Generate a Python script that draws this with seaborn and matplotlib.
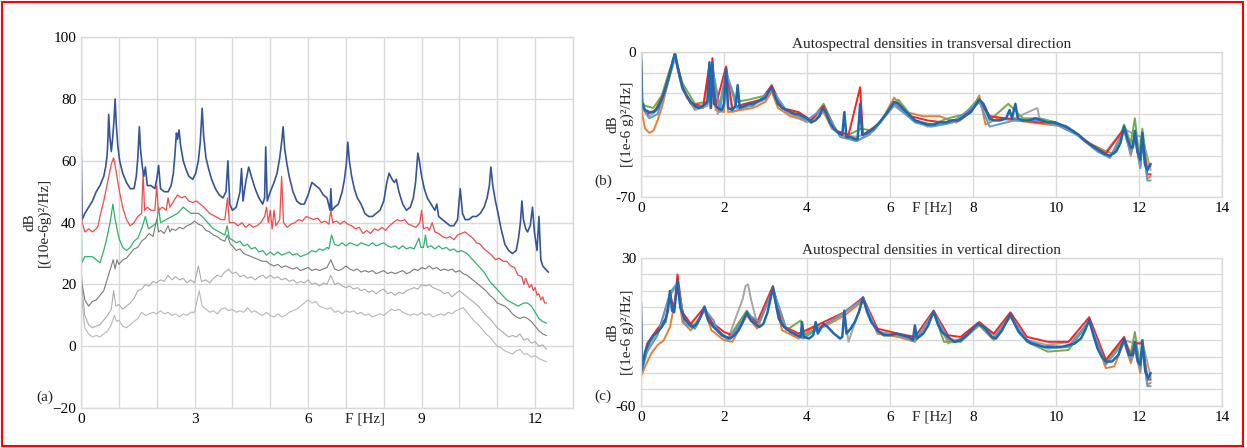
import numpy as np
import seaborn as sns
import matplotlib
matplotlib.use("Agg")
import matplotlib.pyplot as plt
from matplotlib.patches import Rectangle

# ---- panel (a): autospectra, dB [(10e-6g)^2/Hz], (freq Hz, dB) pairs
a_blue = [(0.00, 68), (0.03, 41), (0.10, 43), (0.20, 45), (0.30, 47), (0.40, 50), (0.50, 52), (0.60, 55),
          (0.65, 58), (0.69, 62), (0.71, 67), (0.73, 75), (0.76, 68), (0.80, 63), (0.84, 68), (0.87, 73),
          (0.90, 80), (0.93, 72), (0.97, 65), (1.02, 60), (1.10, 56), (1.20, 53), (1.30, 51), (1.40, 51),
          (1.46, 55), (1.50, 61), (1.54, 71), (1.57, 64), (1.62, 58), (1.66, 55), (1.70, 58), (1.75, 52),
          (1.85, 52), (1.95, 51), (2.00, 54), (2.05, 58.5), (2.10, 51), (2.20, 50), (2.30, 50), (2.38, 52),
          (2.44, 56), (2.48, 62), (2.52, 69), (2.55, 67), (2.59, 70), (2.63, 65), (2.70, 60), (2.78, 57),
          (2.85, 55), (2.95, 54), (3.03, 56), (3.10, 60), (3.15, 66), (3.20, 77), (3.24, 68), (3.30, 61),
          (3.38, 57), (3.45, 54), (3.55, 51), (3.65, 49), (3.75, 48), (3.83, 50), (3.88, 60), (3.93, 46),
          (4.00, 44), (4.10, 45), (4.20, 50), (4.24, 57.5), (4.28, 47), (4.35, 53), (4.43, 58), (4.50, 55),
          (4.60, 51), (4.70, 48), (4.80, 46), (4.85, 48), (4.88, 64.5), (4.92, 47), (5.00, 50), (5.10, 53),
          (5.18, 56), (5.25, 61), (5.30, 66), (5.34, 71), (5.38, 64), (5.44, 59), (5.50, 55), (5.60, 50),
          (5.70, 47), (5.80, 46), (5.90, 46), (6.00, 49), (6.10, 53), (6.20, 52), (6.30, 51), (6.40, 49),
          (6.50, 48), (6.58, 44), (6.60, 51), (6.63, 44), (6.70, 45), (6.80, 46), (6.90, 50), (6.96, 54),
          (7.01, 59), (7.05, 66), (7.09, 60), (7.15, 55), (7.22, 51), (7.30, 48), (7.40, 46), (7.50, 43),
          (7.60, 42), (7.70, 42), (7.80, 43), (7.90, 44), (8.00, 47), (8.08, 53), (8.14, 56), (8.22, 54),
          (8.28, 53), (8.33, 54), (8.40, 50), (8.50, 46), (8.60, 44), (8.70, 45), (8.78, 48), (8.84, 53),
          (8.90, 62.5), (8.94, 60), (9.00, 55), (9.07, 51), (9.15, 48), (9.25, 46), (9.35, 44), (9.40, 46),
          (9.45, 42), (9.55, 41), (9.65, 40), (9.75, 39), (9.85, 39), (9.95, 41), (10.02, 51), (10.08, 43),
          (10.15, 41), (10.25, 41), (10.35, 42), (10.45, 42), (10.55, 43), (10.65, 45), (10.73, 48),
          (10.79, 52), (10.83, 58), (10.88, 52), (10.95, 47), (11.02, 43), (11.10, 38), (11.20, 33),
          (11.30, 31), (11.40, 30), (11.50, 31), (11.56, 35), (11.61, 40), (11.65, 47), (11.69, 41),
          (11.75, 38), (11.80, 37), (11.87, 39), (11.93, 45), (11.98, 37), (12.05, 31), (12.10, 42),
          (12.15, 28), (12.20, 26), (12.27, 25), (12.35, 24)]

a_red = [(0.00, 58), (0.03, 40), (0.10, 37), (0.20, 38), (0.30, 37), (0.40, 38), (0.45, 39), (0.50, 42),
         (0.60, 47), (0.70, 53), (0.80, 59), (0.86, 61), (0.92, 57), (1.00, 51), (1.10, 45), (1.20, 41),
         (1.30, 39), (1.40, 40), (1.50, 42), (1.60, 43), (1.64, 56), (1.68, 44), (1.75, 45), (1.85, 44),
         (1.95, 44), (2.00, 52), (2.04, 44), (2.15, 45), (2.25, 44), (2.30, 48), (2.35, 45), (2.45, 47),
         (2.55, 49), (2.65, 48), (2.75, 48.5), (2.85, 47), (2.95, 46.5), (3.05, 47), (3.15, 46), (3.25, 45),
         (3.40, 43), (3.55, 42), (3.70, 41), (3.80, 41), (3.87, 48), (3.92, 40), (4.05, 40), (4.15, 39),
         (4.25, 40), (4.35, 38.5), (4.45, 39.5), (4.55, 38.5), (4.65, 39), (4.75, 40), (4.85, 42), (4.90, 45),
         (4.95, 40), (5.00, 44), (5.05, 38), (5.10, 44), (5.15, 39), (5.25, 41), (5.30, 55), (5.35, 40),
         (5.45, 38.5), (5.55, 39.5), (5.65, 40), (5.75, 41), (5.85, 40.5), (5.95, 42), (6.05, 41.5),
         (6.15, 41), (6.25, 41.5), (6.35, 40), (6.45, 40.5), (6.55, 39.5), (6.60, 44), (6.65, 40), (6.75, 40.5),
         (6.85, 39.5), (6.95, 40.5), (7.05, 39.5), (7.15, 39), (7.25, 38), (7.35, 38.5), (7.45, 36.5),
         (7.55, 37.5), (7.65, 36.5), (7.75, 38), (7.85, 37.5), (7.95, 38.5), (8.05, 37.5), (8.15, 39),
         (8.25, 40), (8.35, 41), (8.45, 40.5), (8.55, 41), (8.65, 39.5), (8.75, 39), (8.85, 38.5), (8.95, 40),
         (9.00, 44), (9.05, 38), (9.15, 38.5), (9.20, 37.5), (9.28, 40), (9.35, 37), (9.45, 36.5), (9.55, 35.5),
         (9.65, 35), (9.75, 35.5), (9.85, 34.5), (9.95, 36), (10.05, 36.5), (10.15, 37), (10.25, 36),
         (10.35, 35), (10.45, 33.5), (10.55, 33), (10.65, 31.5), (10.75, 30.5), (10.85, 29.5), (10.95, 28),
         (11.05, 28.5), (11.15, 27.5), (11.25, 27.5), (11.35, 26), (11.45, 25.5), (11.55, 23), (11.65, 22.5),
         (11.70, 20), (11.75, 22), (11.80, 20.5), (11.85, 19), (11.90, 20), (11.95, 18), (12.00, 19),
         (12.05, 16.5), (12.10, 17), (12.15, 15), (12.20, 16), (12.25, 14), (12.30, 14)]

a_green = [(0.00, 50), (0.02, 27), (0.10, 29), (0.20, 29), (0.30, 29), (0.40, 28), (0.50, 27), (0.60, 31),
           (0.70, 36), (0.78, 41), (0.84, 46), (0.90, 41), (1.00, 35), (1.10, 32), (1.20, 31), (1.30, 32),
           (1.40, 34), (1.50, 35), (1.60, 38), (1.70, 42), (1.78, 38), (1.90, 39), (2.00, 40), (2.05, 45),
           (2.10, 40), (2.25, 41), (2.40, 42), (2.55, 43), (2.70, 45), (2.80, 44), (2.90, 43), (3.00, 43),
           (3.10, 43), (3.20, 42), (3.35, 40), (3.50, 38), (3.65, 37), (3.80, 36), (3.86, 39), (3.92, 35),
           (4.05, 34), (4.10, 33.5), (4.20, 34), (4.30, 32.5), (4.40, 33), (4.50, 31.5), (4.60, 32), (4.70, 30.5),
           (4.80, 31), (4.90, 29.5), (5.00, 30.5), (5.10, 29.5), (5.20, 30.5), (5.30, 29.5), (5.40, 30),
           (5.50, 30.5), (5.60, 29.5), (5.70, 30), (5.80, 29), (5.90, 29.5), (6.00, 30), (6.10, 31), (6.20, 30.5),
           (6.30, 31.5), (6.40, 31), (6.50, 32), (6.55, 31.5), (6.62, 36), (6.70, 33), (6.80, 32.5), (6.90, 33.5),
           (7.00, 32.5), (7.10, 33.5), (7.20, 33), (7.30, 32.5), (7.40, 33.5), (7.50, 33), (7.60, 32.5),
           (7.70, 33.5), (7.80, 32.5), (7.90, 33), (8.00, 33.5), (8.10, 32.5), (8.20, 32), (8.30, 32.5),
           (8.40, 31.5), (8.50, 32.5), (8.60, 31.5), (8.70, 32), (8.80, 31.5), (8.93, 35), (8.98, 32),
           (9.05, 32), (9.10, 36), (9.15, 32), (9.25, 32.5), (9.35, 31.5), (9.45, 32.5), (9.55, 31.5),
           (9.65, 32), (9.75, 31), (9.85, 31.5), (9.95, 30.5), (10.05, 31), (10.20, 30), (10.35, 28),
           (10.50, 26), (10.65, 24), (10.80, 21), (10.95, 19), (11.10, 17), (11.25, 15), (11.40, 14),
           (11.55, 13), (11.70, 14), (11.80, 14), (11.90, 13), (12.00, 11), (12.10, 9), (12.20, 8),
           (12.30, 7.5)]

a_gray = [(0.00, 25), (0.03, 20), (0.10, 15), (0.20, 13), (0.30, 14.5), (0.40, 15), (0.50, 16.5), (0.60, 18),
          (0.70, 22), (0.80, 26), (0.85, 28), (0.90, 25), (0.95, 28), (1.00, 26.5), (1.10, 28), (1.20, 28.5),
          (1.30, 30), (1.40, 31.5), (1.50, 32), (1.60, 34), (1.70, 35), (1.80, 36.5), (1.90, 35.5), (2.00, 41),
          (2.05, 37), (2.10, 37.5), (2.20, 36.5), (2.30, 39), (2.35, 37), (2.40, 38), (2.50, 37.5), (2.60, 38.5),
          (2.70, 38), (2.80, 39), (2.90, 39.5), (3.00, 40.5), (3.10, 39.5), (3.20, 39), (3.30, 37.5), (3.40, 37),
          (3.50, 36), (3.60, 35.5), (3.70, 34.5), (3.80, 34), (3.86, 36), (3.95, 33), (4.00, 32.5), (4.10, 31),
          (4.20, 31.5), (4.30, 30), (4.40, 29.5), (4.50, 29), (4.60, 28.5), (4.70, 28), (4.80, 27.5),
          (4.90, 27.5), (5.00, 26.5), (5.10, 26), (5.20, 26.5), (5.30, 25.5), (5.40, 26), (5.50, 25.5),
          (5.60, 25), (5.70, 25.5), (5.80, 24.5), (5.90, 25), (6.00, 25.5), (6.10, 24.5), (6.20, 25),
          (6.30, 24.5), (6.40, 25), (6.50, 25.5), (6.60, 28), (6.70, 25), (6.80, 24.5), (6.90, 25), (7.00, 26),
          (7.10, 25), (7.20, 24.5), (7.30, 25), (7.40, 24), (7.50, 24.5), (7.60, 24), (7.70, 24.5), (7.80, 23.5),
          (7.90, 24), (8.00, 24.5), (8.10, 23.5), (8.20, 24), (8.30, 23.5), (8.40, 24), (8.50, 24.5),
          (8.60, 23.5), (8.70, 24), (8.80, 25), (8.90, 24.5), (9.00, 25.5), (9.10, 25), (9.20, 26), (9.30, 25),
          (9.40, 25.5), (9.50, 24.5), (9.60, 25), (9.70, 24.5), (9.80, 25), (9.90, 24), (10.00, 24.5),
          (10.10, 23.5), (10.20, 23), (10.30, 22), (10.40, 21), (10.50, 20), (10.60, 19), (10.70, 18),
          (10.80, 16.5), (10.90, 15.5), (11.00, 14), (11.10, 13.5), (11.20, 13), (11.30, 12), (11.40, 10.5),
          (11.50, 9.5), (11.60, 9), (11.70, 9.5), (11.80, 9), (11.90, 8), (12.00, 6.5), (12.10, 5), (12.20, 4),
          (12.30, 3.5)]

a_lgray1 = [(0.00, 22), (0.03, 18), (0.10, 10), (0.20, 7), (0.30, 6), (0.40, 6.5), (0.50, 7), (0.60, 8.5),
            (0.70, 10), (0.80, 12), (0.86, 18), (0.92, 13), (1.00, 13.5), (1.10, 12), (1.20, 13), (1.30, 14),
            (1.40, 15.5), (1.50, 18), (1.60, 18.5), (1.70, 20), (1.80, 19.5), (1.90, 21), (2.00, 20.5),
            (2.10, 21.5), (2.20, 21), (2.30, 23), (2.40, 21.5), (2.50, 22.5), (2.60, 21.5), (2.70, 22),
            (2.80, 20.5), (2.90, 21.5), (3.00, 20.5), (3.10, 26), (3.18, 21), (3.30, 21.5), (3.40, 20.5),
            (3.50, 22), (3.60, 23), (3.70, 22.5), (3.80, 24), (3.90, 25), (4.00, 23.5), (4.10, 24), (4.20, 22.5),
            (4.30, 23), (4.40, 22), (4.50, 22.5), (4.60, 21.5), (4.70, 22.5), (4.80, 23), (4.90, 22), (5.00, 23),
            (5.10, 22), (5.20, 22.5), (5.30, 21.5), (5.40, 22), (5.50, 21), (5.60, 21.5), (5.70, 20.5),
            (5.80, 21), (5.90, 20.5), (6.00, 21.5), (6.10, 20), (6.20, 20.5), (6.30, 19.5), (6.40, 20.5),
            (6.50, 20), (6.60, 23), (6.70, 20), (6.80, 20.5), (6.90, 19.5), (7.00, 19), (7.10, 19.5), (7.20, 18.5),
            (7.30, 19), (7.40, 18), (7.50, 18.5), (7.60, 17.5), (7.70, 18), (7.80, 17), (7.90, 18), (8.00, 18.5),
            (8.10, 17), (8.20, 17.5), (8.30, 16.5), (8.40, 17.5), (8.50, 17), (8.60, 18), (8.70, 18.5),
            (8.80, 19), (8.90, 18.5), (9.00, 20), (9.10, 19.5), (9.20, 20), (9.30, 19), (9.40, 18.5), (9.50, 18),
            (9.60, 17), (9.70, 17.5), (9.80, 16), (9.90, 17), (10.00, 18), (10.10, 17), (10.20, 16), (10.30, 15),
            (10.40, 14), (10.50, 13), (10.60, 11.5), (10.70, 10), (10.80, 9), (10.90, 7.5), (11.00, 6),
            (11.10, 5), (11.20, 4), (11.30, 3), (11.40, 3.5), (11.50, 3), (11.60, 4), (11.70, 2), (11.80, 2.5),
            (11.90, 1), (12.00, 1.5), (12.10, 0), (12.20, 0.5), (12.30, -1)]

a_lgray2 = [(0.00, 18), (0.03, 14), (0.10, 6), (0.20, 4), (0.30, 3), (0.40, 3.5), (0.50, 3), (0.60, 4),
            (0.70, 5), (0.80, 7), (0.88, 10), (0.94, 8), (1.00, 8.5), (1.10, 6.5), (1.20, 6), (1.30, 7),
            (1.40, 8), (1.50, 9), (1.60, 11), (1.70, 10), (1.80, 10.5), (1.90, 11), (2.00, 10.5), (2.10, 11.5),
            (2.20, 10.5), (2.30, 11), (2.40, 10), (2.50, 10.5), (2.60, 9.5), (2.70, 10.5), (2.80, 10), (2.90, 11),
            (3.00, 11), (3.12, 18), (3.20, 13), (3.30, 12), (3.40, 11), (3.50, 11.5), (3.60, 10.5), (3.70, 12),
            (3.80, 12.5), (3.90, 11.5), (4.00, 12), (4.10, 11), (4.20, 11.5), (4.30, 11), (4.40, 12.5),
            (4.50, 11), (4.60, 11.5), (4.70, 10.5), (4.80, 10), (4.90, 11), (5.00, 10), (5.10, 9.5), (5.20, 10.5),
            (5.30, 9.5), (5.40, 10), (5.50, 11), (5.60, 11.5), (5.70, 12), (5.80, 13), (5.90, 14), (6.00, 15),
            (6.10, 14), (6.20, 14.5), (6.30, 13), (6.40, 12.5), (6.50, 12), (6.60, 12.5), (6.70, 11), (6.80, 11.5),
            (6.90, 10.5), (7.00, 11.5), (7.10, 11), (7.20, 11.5), (7.30, 10.5), (7.40, 11), (7.50, 10),
            (7.60, 10.5), (7.70, 9.5), (7.80, 10), (7.90, 10.5), (8.00, 10), (8.10, 11), (8.20, 12), (8.30, 11.5),
            (8.40, 12), (8.50, 11), (8.60, 10.5), (8.70, 10), (8.80, 10.5), (8.90, 10), (9.00, 11), (9.10, 10),
            (9.20, 10.5), (9.30, 9.5), (9.40, 10), (9.50, 10.5), (9.60, 10), (9.70, 11), (9.80, 10.5),
            (9.90, 11.5), (10.00, 12), (10.10, 12.5), (10.20, 11), (10.30, 9.5), (10.40, 8), (10.50, 7),
            (10.60, 5.5), (10.70, 4), (10.80, 3), (10.90, 1.5), (11.00, 0), (11.10, -0.5), (11.20, -1.5),
            (11.30, -2), (11.40, -2.5), (11.50, -1.5), (11.60, -1), (11.70, -2.5), (11.80, -2.5), (11.90, -3.5),
            (12.00, -3), (12.10, -4), (12.20, -4.5), (12.30, -5)]

# ---- panel (b): transversal direction, dB [(1e-6 g)^2/Hz]
b_blue = [(0.00, 0), (0.03, -25), (0.10, -28), (0.20, -29), (0.30, -29), (0.40, -27), (0.50, -23), (0.60, -17),
          (0.70, -10), (0.77, -4), (0.82, -0.5), (0.88, -7), (0.95, -13), (1.00, -17), (1.10, -21), (1.20, -24),
          (1.30, -26), (1.40, -27), (1.50, -26), (1.60, -24), (1.65, -5), (1.68, -27), (1.72, -5), (1.76, -25),
          (1.85, -27), (1.95, -28), (2.00, -25), (2.05, -8), (2.10, -27), (2.20, -28), (2.28, -26), (2.33, -16),
          (2.38, -27), (2.50, -26), (2.60, -25), (2.70, -25), (2.80, -24), (2.90, -23), (3.00, -22), (3.08, -19),
          (3.15, -17), (3.22, -21), (3.30, -25), (3.40, -27), (3.50, -28), (3.60, -29), (3.70, -30), (3.80, -30),
          (3.90, -31), (4.00, -32), (4.10, -34), (4.20, -33), (4.30, -31), (4.38, -27), (4.45, -29), (4.55, -34),
          (4.65, -37), (4.75, -39), (4.85, -40), (4.90, -29), (4.95, -41), (5.05, -41), (5.15, -42), (5.22, -42),
          (5.28, -25), (5.33, -40), (5.45, -39), (5.60, -37), (5.75, -34), (5.90, -30), (6.00, -27), (6.10, -24),
          (6.20, -25), (6.30, -27), (6.45, -30), (6.60, -33), (6.75, -34), (6.90, -35), (7.05, -35), (7.20, -34),
          (7.35, -34), (7.50, -33), (7.65, -33), (7.80, -31), (7.95, -29), (8.05, -26), (8.15, -23), (8.25, -25),
          (8.32, -28), (8.40, -32), (8.50, -33), (8.65, -33), (8.80, -32), (8.88, -28), (8.94, -32), (9.02, -25),
          (9.08, -32), (9.20, -33), (9.35, -33), (9.50, -32), (9.65, -33), (9.80, -34), (9.95, -34), (10.10, -35),
          (10.25, -36), (10.40, -38), (10.55, -40), (10.70, -43), (10.85, -45), (11.00, -47), (11.15, -49),
          (11.30, -50), (11.45, -48), (11.55, -44), (11.64, -36), (11.72, -42), (11.80, -46), (11.85, -46),
          (11.90, -38), (11.96, -48), (12.03, -52), (12.08, -39), (12.14, -54), (12.20, -57), (12.25, -55),
          (12.28, -54)]

b_orange = [(0.00, -5), (0.03, -30), (0.10, -37), (0.20, -39), (0.30, -38), (0.40, -33), (0.50, -27), (0.60, -19),
            (0.70, -11), (0.82, -2), (0.95, -14), (1.10, -22), (1.30, -27), (1.50, -27), (1.65, -8), (1.70, -27),
            (1.72, -7), (1.80, -28), (2.00, -29), (2.05, -10), (2.10, -29), (2.40, -28), (2.70, -27), (3.00, -24),
            (3.15, -19), (3.30, -27), (3.60, -31), (4.00, -33), (4.38, -28), (4.60, -37), (4.90, -41), (5.20, -43),
            (5.50, -40), (5.80, -33), (6.10, -22), (6.40, -29), (6.80, -31), (7.20, -31), (7.60, -34), (8.00, -27),
            (8.15, -21), (8.30, -35), (8.60, -32), (9.00, -33), (9.40, -34), (9.80, -35), (10.20, -36),
            (10.60, -41), (11.00, -48), (11.30, -51), (11.64, -37), (11.80, -50), (11.90, -42), (12.03, -56),
            (12.08, -43), (12.20, -61), (12.28, -60)]

b_green = [(0.00, -2), (0.03, -24), (0.10, -26), (0.30, -27), (0.50, -21), (0.70, -8), (0.82, -2), (1.00, -15),
           (1.30, -25), (1.60, -24), (1.72, -8), (1.90, -26), (2.05, -10), (2.30, -24), (2.60, -23), (3.00, -21),
           (3.15, -18), (3.40, -27), (3.80, -30), (4.10, -33), (4.40, -25), (4.70, -38), (5.00, -40), (5.30, -37),
           (5.60, -38), (6.00, -28), (6.20, -23), (6.60, -33), (7.00, -35), (7.40, -32), (7.80, -30), (8.15, -22),
           (8.40, -33), (8.85, -25), (9.20, -32), (9.60, -32), (10.00, -34), (10.40, -38), (10.80, -44),
           (11.20, -48), (11.40, -49), (11.64, -35), (11.80, -44), (11.90, -32), (12.00, -50), (12.08, -37),
           (12.20, -56), (12.28, -55)]

b_red = [(0.00, -1), (0.03, -26), (0.15, -30), (0.35, -28), (0.55, -20), (0.75, -6), (0.82, -1), (1.00, -17),
         (1.20, -25), (1.50, -26), (1.65, -6), (1.68, -26), (1.72, -3), (1.80, -26), (2.05, -7), (2.20, -27),
         (2.50, -25), (2.90, -23), (3.15, -16), (3.40, -27), (3.80, -29), (4.10, -33), (4.40, -26), (4.70, -38),
         (5.00, -40), (5.28, -17), (5.35, -40), (5.70, -35), (6.10, -25), (6.50, -31), (6.90, -33), (7.30, -34),
         (7.70, -32), (8.00, -27), (8.15, -24), (8.40, -31), (8.80, -32), (9.20, -33), (9.60, -34), (10.00, -34),
         (10.40, -38), (10.80, -44), (11.20, -49), (11.64, -37), (11.80, -48), (11.90, -40), (12.03, -54),
         (12.08, -42), (12.20, -59), (12.28, -59)]

b_gray = [(0.00, -3), (0.03, -27), (0.20, -31), (0.40, -28), (0.60, -18), (0.82, -3), (1.00, -18), (1.30, -28),
          (1.60, -26), (1.72, -9), (1.85, -30), (2.05, -10), (2.20, -29), (2.60, -26), (3.00, -23), (3.15, -19),
          (3.50, -29), (4.00, -34), (4.40, -29), (4.80, -40), (5.20, -41), (5.60, -38), (6.10, -26), (6.50, -32),
          (6.90, -36), (7.30, -35), (7.70, -33), (8.15, -24), (8.50, -33), (9.00, -32), (9.55, -27), (9.60, -32),
          (10.00, -34), (10.40, -38), (10.80, -44), (11.20, -48), (11.64, -37), (11.90, -40), (12.08, -41),
          (12.28, -57)]

b_lblue = [(0.00, -2), (0.03, -27), (0.20, -32), (0.40, -30), (0.60, -18), (0.82, -2), (1.00, -18), (1.30, -27),
           (1.60, -25), (1.72, -7), (1.90, -29), (2.05, -9), (2.30, -27), (2.70, -26), (3.15, -18), (3.50, -28),
           (4.00, -33), (4.40, -27), (4.80, -41), (5.20, -43), (5.60, -38), (6.10, -25), (6.60, -34), (7.00, -36),
           (7.50, -34), (8.15, -24), (8.40, -36), (9.00, -33), (9.60, -33), (10.00, -35), (10.50, -40),
           (11.00, -48), (11.30, -51), (11.64, -38), (11.80, -49), (11.90, -40), (12.03, -56), (12.08, -43),
           (12.20, -62), (12.28, -62)]

# ---- panel (c): vertical direction, dB [(1e-6 g)^2/Hz]
c_blue = [(0.00, 3), (0.02, -38), (0.05, -34), (0.10, -27), (0.20, -21), (0.30, -17), (0.40, -15), (0.50, -12),
          (0.58, -8), (0.65, -2), (0.70, 10), (0.75, -2), (0.80, -3), (0.88, 16), (0.95, 0), (1.05, -7),
          (1.15, -10), (1.25, -12), (1.35, -10), (1.45, -5), (1.53, 0.5), (1.62, -8), (1.75, -12), (1.85, -14),
          (1.95, -17), (2.05, -18), (2.15, -19), (2.25, -17), (2.35, -14), (2.45, -9), (2.55, -3), (2.65, -8),
          (2.75, -10), (2.85, -12), (2.95, -10), (3.05, -3), (3.12, 5), (3.18, 12), (3.25, 2), (3.32, -7),
          (3.45, -12), (3.60, -15), (3.75, -17), (3.85, -18), (3.88, -9), (3.92, -18), (4.05, -19), (4.15, -17),
          (4.21, -9), (4.26, -16), (4.33, -13), (4.40, -10), (4.50, -12), (4.65, -16), (4.80, -19), (4.85, -18),
          (4.90, -2), (4.95, -16), (5.05, -13), (5.15, -9), (5.25, -3), (5.35, 6), (5.45, -3), (5.55, -9),
          (5.70, -14), (5.85, -17), (6.00, -17), (6.15, -16), (6.30, -17), (6.45, -18), (6.55, -20), (6.60, -11),
          (6.65, -19), (6.80, -16), (6.92, -11), (7.05, -2.5), (7.15, -10), (7.25, -15), (7.40, -18), (7.55, -21),
          (7.70, -20), (7.85, -17), (8.00, -13), (8.10, -10), (8.20, -11), (8.30, -13), (8.45, -18), (8.55, -19),
          (8.70, -14), (8.80, -9), (8.90, -4), (9.00, -10), (9.10, -15), (9.25, -19), (9.40, -22), (9.55, -23),
          (9.70, -24), (9.85, -24), (10.00, -24), (10.15, -24), (10.30, -23), (10.45, -22), (10.60, -19),
          (10.70, -14), (10.80, -7.5), (10.90, -17), (11.00, -25), (11.10, -30), (11.20, -33), (11.35, -33),
          (11.50, -29), (11.64, -19), (11.75, -29), (11.85, -29), (11.90, -21), (11.97, -33), (12.03, -35),
          (12.08, -20), (12.15, -39), (12.22, -43), (12.28, -40)]

c_orange = [(0.00, -5), (0.02, -41), (0.10, -36), (0.25, -28), (0.40, -23), (0.55, -20), (0.70, -12), (0.88, 12),
            (1.00, -9), (1.20, -14), (1.53, -2), (1.70, -14), (2.00, -20), (2.20, -21), (2.55, -5), (2.80, -13),
            (3.18, 10), (3.40, -14), (3.80, -19), (4.21, -11), (4.40, -12), (4.90, -5), (5.35, 4), (5.70, -16),
            (6.20, -18), (6.60, -21), (7.05, -4), (7.40, -20), (7.70, -21), (8.15, -11), (8.50, -20), (8.90, -6),
            (9.30, -21), (9.80, -25), (10.30, -24), (10.80, -9), (11.20, -37), (11.40, -36), (11.64, -21),
            (11.80, -34), (11.90, -26), (12.03, -40), (12.08, -25), (12.20, -47), (12.28, -46)]

c_red = [(0.00, 2), (0.02, -37), (0.15, -22), (0.40, -13), (0.60, -7), (0.70, 8), (0.80, -1), (0.88, 20),
         (1.00, -3), (1.20, -10), (1.53, 0), (1.70, -9), (2.00, -15), (2.20, -17), (2.55, -4), (2.80, -9),
         (3.18, 13), (3.40, -11), (3.80, -16), (4.40, -9), (4.90, -3), (5.35, 6), (5.70, -13), (6.20, -16),
         (6.60, -18), (7.05, -2), (7.40, -17), (7.70, -18), (8.15, -9), (8.50, -16), (8.90, -3), (9.30, -18),
         (9.80, -21), (10.30, -21), (10.80, -6), (11.20, -32), (11.64, -18), (11.80, -30), (11.90, -22),
         (12.08, -22), (12.20, -44), (12.28, -44)]

c_green = [(0.00, 1), (0.02, -38), (0.15, -23), (0.40, -14), (0.60, -9), (0.70, 9), (0.88, 14), (1.05, -8),
           (1.30, -11), (1.53, -1), (1.80, -13), (2.10, -19), (2.55, -2), (2.80, -11), (3.18, 11), (3.50, -14),
           (3.85, -8), (3.95, -17), (4.40, -11), (4.90, -3), (5.35, 5), (5.70, -15), (6.20, -17), (6.60, -19),
           (7.05, -3), (7.30, -21), (7.60, -21), (8.15, -11), (8.50, -19), (8.90, -5), (9.30, -21), (9.80, -27),
           (10.30, -26), (10.80, -9), (11.20, -33), (11.64, -20), (11.80, -28), (11.90, -15), (12.03, -37),
           (12.08, -23), (12.20, -42), (12.28, -43)]

c_gray = [(0.00, 0), (0.02, -38), (0.15, -25), (0.40, -16), (0.70, 7), (0.88, 14), (1.05, -10), (1.30, -13),
          (1.53, -1), (1.80, -14), (2.10, -19), (2.45, 5), (2.52, 13), (2.58, 14), (2.65, 5), (2.80, -10),
          (3.18, 11), (3.50, -13), (3.90, -17), (4.40, -11), (4.90, -4), (5.00, -21), (5.35, 5), (5.70, -16),
          (6.20, -17), (6.60, -19), (7.05, -3), (7.40, -22), (7.70, -19), (7.90, -14), (8.15, -9), (8.50, -17),
          (8.90, -5), (9.30, -20), (9.80, -23), (10.30, -21), (10.70, -13), (10.80, -8), (11.20, -33),
          (11.64, -20), (11.90, -22), (12.08, -21), (12.28, -42)]

c_lblue = [(0.00, 2), (0.02, -39), (0.15, -27), (0.40, -17), (0.70, 9), (0.88, 15), (1.05, -10), (1.30, -13),
           (1.53, -1), (1.75, -8), (1.85, -15), (2.10, -20), (2.55, -4), (2.75, -7), (2.85, -9), (3.18, 11),
           (3.50, -13), (3.90, -19), (4.40, -11), (4.90, -3), (5.35, 5), (5.70, -15), (6.20, -17), (6.60, -20),
           (7.05, -3), (7.40, -19), (7.70, -21), (8.15, -10), (8.50, -19), (8.90, -5), (9.30, -20), (9.80, -25),
           (10.30, -24), (10.80, -8), (11.20, -35), (11.64, -21), (11.80, -32), (11.90, -23), (12.03, -38),
           (12.08, -23), (12.20, -48), (12.28, -48)]

GRID = "#d9d9d9"


def draw(ax, pairs, color, lw):
    f, db = np.array(pairs).T
    sns.lineplot(x=f, y=db, ax=ax, color=color, linewidth=lw, sort=False, estimator=None)


def style_axes(ax):
    for sp in ax.spines.values():
        sp.set_color(GRID)
        sp.set_linewidth(1.0)
    ax.grid(True, color=GRID, linewidth=1.0)
    ax.tick_params(length=0, labelsize=11, colors="black")
    ax.set_xlabel("")


sns.set_theme(style="whitegrid")
plt.rcParams["font.family"] = ["Liberation Serif", "DejaVu Serif"]

fig = plt.figure(figsize=(12.47, 4.48), dpi=100)
ax_a = fig.add_axes([0.065, 0.089, 0.3945, 0.828])
ax_b = fig.add_axes([0.514, 0.560, 0.466, 0.324])
ax_c = fig.add_axes([0.514, 0.094, 0.466, 0.330])

# panel (a)
for pairs, col, lw in [(a_lgray2, "#b8b8b8", 0.8), (a_lgray1, "#adadad", 0.8), (a_gray, "#7a7a7a", 0.8),
                       (a_green, "#2fb36c", 0.9), (a_red, "#f24a4a", 0.9), (a_blue, "#34559a", 1.2)]:
    draw(ax_a, pairs, col, lw)
ax_a.set_xlim(0, 13)
ax_a.set_ylim(-20, 100)
ax_a.set_xticks(range(0, 14))
ax_a.set_xticklabels([str(i) if i % 3 == 0 else "" for i in range(0, 14)])
ax_a.set_yticks(range(-20, 101, 20))
style_axes(ax_a)
ax_a.set_ylabel("dB\n[(10e-6g)²/Hz]", fontsize=11, linespacing=1.1)
ax_a.yaxis.set_label_coords(-0.062, 0.5)
ax_a.text(7.5, -0.012, "F [Hz]", transform=ax_a.get_xaxis_transform(), ha="center", va="top", fontsize=11)

# panels (b) and (c)
right_colors = ["#a5a5a5", "#ed7d31", "#70ad47", "#ff2020", "#5b9bd5", "#1f68b0"]
for ax, series, lo, hi, title in [
        (ax_b, [b_gray, b_orange, b_green, b_red, b_lblue, b_blue], -70, 0,
         "Autospectral densities in transversal direction"),
        (ax_c, [c_gray, c_orange, c_green, c_red, c_lblue, c_blue], -60, 30,
         "Autospectral densities in vertical direction")]:
    for pairs, col in zip(series, right_colors):
        draw(ax, pairs, col, 1.8 if col == "#1f68b0" else 1.4)
    ax.set_xlim(0, 14)
    ax.set_ylim(lo, hi)
    ax.set_xticks(range(0, 15, 2))
    yt = list(range(lo, hi + 1, 10))
    ax.set_yticks(yt)
    ax.set_yticklabels([str(v) if v in (lo, hi) else "" for v in yt])
    style_axes(ax)
    ax.set_title(title, fontsize=11, pad=3)
    ax.set_ylabel("dB\n[(1e-6 g)²/Hz]", fontsize=11, linespacing=1.1)
    ax.yaxis.set_label_coords(-0.012, 0.5)
    ax.text(7.0, -0.03, "F [Hz]", transform=ax.get_xaxis_transform(), ha="center", va="top", fontsize=11)

fig.text(45 / 1247, 1 - 397 / 448, "(a)", ha="center", va="center", fontsize=11)
fig.text(603 / 1247, 1 - 181 / 448, "(b)", ha="center", va="center", fontsize=11)
fig.text(603 / 1247, 1 - 396 / 448, "(c)", ha="center", va="center", fontsize=11)

fig.patches.append(Rectangle((0.002, 0.004), 0.995, 0.991, transform=fig.transFigure,
                             fill=False, edgecolor="red", linewidth=1.5))

fig.savefig("out.png", dpi=100)
